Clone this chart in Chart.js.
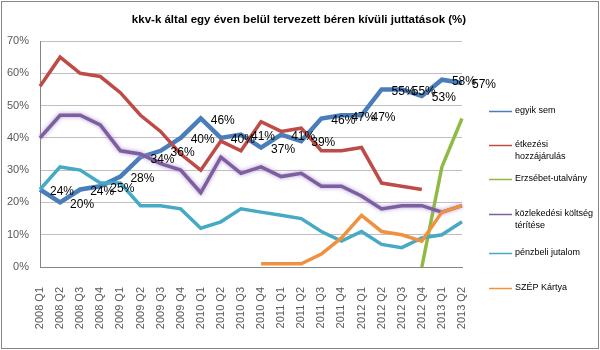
<!DOCTYPE html>
<html>
<head>
<meta charset="utf-8">
<script src="https://cdn.jsdelivr.net/npm/chart.js@4"></script>
<style>
  html, body { margin: 0; padding: 0; background: #fff; }
  #wrap { width: 600px; height: 350px; position: relative; }
</style>
</head>
<body>
<div id="wrap"><canvas id="chart"></canvas></div>
<script>
// Negyedévek
const labels = [
  "2008 Q1", "2008 Q2", "2008 Q3", "2008 Q4",
  "2009 Q1", "2009 Q2", "2009 Q3", "2009 Q4",
  "2010 Q1", "2010 Q2", "2010 Q3", "2010 Q4",
  "2011 Q1", "2011 Q2", "2011 Q3", "2011 Q4",
  "2012 Q1", "2012 Q2", "2012 Q3", "2012 Q4",
  "2013 Q1", "2013 Q2",
];

// Sorozatok (%)
const egyikSem = [24, 20, 24, 25, 28, 34, 36, 40, 46, 40, 41, 37, 41, 39, 46, 47, 47, 55, 55, 53, 58, 57];
const etkezesi = [56, 65, 60, 59, 54, 47, 42, 35, 30, 39, 36, 45, 42, 43, 36, 36, 37, 26, 25, 24, null, null];
const erzsebet = [null, null, null, null, null, null, null, null, null, null, null, null, null, null, null, null, null, null, null, 0, 31, 46];
const kozlekedesi = [40, 47, 47, 44, 36, 35, 32, 30, 23, 34, 29, 31, 28, 29, 25, 25, 22, 18, 19, 19, 17, 19];
const penzbeli = [24, 31, 30, 26, 26, 19, 19, 18, 12, 14, 18, 17, 16, 15, 11, 8, 11, 7, 6, 9, 10, 14];
const szep = [null, null, null, null, null, null, null, null, null, null, null, 1, 1, 1, 4, 9, 16, 11, 10, 8, 17, 19];

// Jelmagyarázat szövegei
const legendNames = [
  ["egyik sem"],
  ["étkezési", "hozzájárulás"],
  ["Erzsébet-utalvány"],
  ["közlekedési költség", "térítése"],
  ["pénzbeli jutalom"],
  ["SZÉP Kártya"],
];

const title = "kkv-k által egy éven belül tervezett béren kívüli juttatások (%)";
const colors = ["#4a7ebb", "#be4b48", "#8fbb45", "#7d5fa0", "#46aac5", "#f0913f"];
const FONT = "Arial, 'Liberation Sans', sans-serif";

// Csak az "egyik sem" sorozat kap címkét
const dataLabelPlugin = {
  id: "dataLabels",
  afterDatasetsDraw(chart) {
    const ctx = chart.ctx;
    const meta = chart.getDatasetMeta(0);
    ctx.save();
    ctx.font = "12px " + FONT;
    ctx.fillStyle = "#000";
    ctx.textAlign = "left";
    ctx.textBaseline = "middle";
    meta.data.forEach((pt, i) => {
      if (egyikSem[i] == null) return;
      ctx.fillText(egyikSem[i] + "%", pt.x + 10, pt.y + 2);
    });
    ctx.restore();
  },
};

// Árnyék a lila vonalhoz
const glowPlugin = {
  id: "glow",
  beforeDatasetDraw(chart, args) {
    if (args.index !== 3) return;
    chart.ctx.save();
    chart.ctx.shadowColor = "rgba(170,140,210,0.9)";
    chart.ctx.shadowBlur = 4;
  },
  afterDatasetDraw(chart, args) {
    if (args.index !== 3) return;
    chart.ctx.restore();
  },
};

// Cím, jelmagyarázat és keret
const legendPlugin = {
  id: "sideLegend",
  afterDraw(chart) {
    const ctx = chart.ctx;
    ctx.save();
    ctx.strokeStyle = "#868686";
    ctx.lineWidth = 1;
    ctx.strokeRect(1.5, 1.5, 597, 347);

    ctx.font = "bold 11.5px " + FONT;
    ctx.fillStyle = "#000";
    ctx.textAlign = "center";
    ctx.textBaseline = "middle";
    ctx.fillText(title, 299, 20);

    const ys = [111, 145, 179, 214, 253, 288];
    ctx.font = "9px " + FONT;
    ctx.textAlign = "left";
    legendNames.forEach((lines, i) => {
      const y = ys[i];
      ctx.strokeStyle = colors[i];
      ctx.lineWidth = 1.5;
      ctx.beginPath();
      ctx.moveTo(489, y + 0.5);
      ctx.lineTo(512, y + 0.5);
      ctx.stroke();
      ctx.fillStyle = "#000";
      lines.forEach((t, j) => ctx.fillText(t, 515, y + j * 11.5));
    });
    ctx.restore();
  },
};

const names = ["egyik sem", "étkezési hozzájárulás", "Erzsébet-utalvány",
  "közlekedési költség térítése", "pénzbeli jutalom", "SZÉP Kártya"];
const series = [egyikSem, etkezesi, erzsebet, kozlekedesi, penzbeli, szep];

const ctx = document.getElementById("chart").getContext("2d");
new Chart(ctx, {
  type: "line",
  data: {
    labels: labels,
    datasets: series.map((d, i) => ({
      label: names[i],
      data: d,
      order: series.length - i,
      borderColor: colors[i],
      backgroundColor: colors[i],
      borderWidth: i === 0 ? 4.5 : 3.5,
      pointRadius: 0,
      tension: 0,
      spanGaps: false,
      borderJoinStyle: "miter",
    })),
  },
  options: {
    responsive: true,
    maintainAspectRatio: false,
    animation: false,
    layout: { padding: { top: 41, right: 138, left: 0, bottom: 0 } },
    plugins: {
      legend: { display: false },
      tooltip: { enabled: false },
      title: { display: false },
    },
    scales: {
      x: {
        offset: false,
        grid: { display: false, drawTicks: false },
        border: { display: true, color: "#868686" },
        ticks: {
          color: "#595959",
          font: { family: FONT, size: 11 },
          minRotation: 90,
          maxRotation: 90,
          autoSkip: false,
          padding: 20,
        },
        afterFit: (s) => { s.height = 83; },
      },
      y: {
        min: 0,
        max: 70,
        grid: { color: "#bfbfbf", drawTicks: false },
        border: { display: true, color: "#868686" },
        ticks: {
          stepSize: 10,
          color: "#595959",
          font: { family: FONT, size: 11 },
          padding: 11,
          callback: (v) => v + "%",
        },
        afterFit: (s) => { s.width = 40; },
      },
    },
  },
  plugins: [glowPlugin, dataLabelPlugin, legendPlugin],
});
</script>
</body>
</html>
